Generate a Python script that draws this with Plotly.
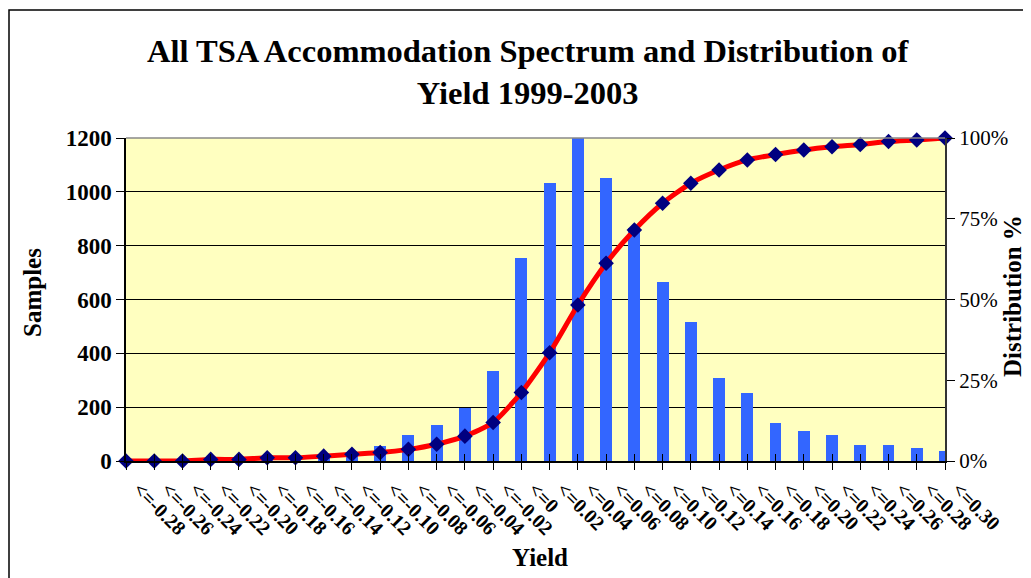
import plotly.graph_objects as go

# categories (yield bins)
yield_labels = ["<=-0.28", "<=-0.26", "<=-0.24", "<=-0.22", "<=-0.20", "<=-0.18",
                "<=-0.16", "<=-0.14", "<=-0.12", "<=-0.10", "<=-0.08", "<=-0.06",
                "<=-0.04", "<=-0.02", "<=0", "<=0.02", "<=0.04", "<=0.06",
                "<=0.08", "<=0.10", "<=0.12", "<=0.14", "<=0.16", "<=0.18",
                "<=0.20", "<=0.22", "<=0.24", "<=0.26", "<=0.28", "<=0.30"]

# samples per bin (bars, left axis)
samples = [0, 0, 8, 3, 3, 5, 5, 25, 30, 56, 95, 134, 198, 334, 754,
           1033, 1211, 1051, 867, 665, 516, 308, 253, 141, 111, 97, 59, 59, 48, 37]

# cumulative distribution (line, right axis)
distribution = [0.0, 0.0, 0.0, 0.005, 0.005, 0.010, 0.010, 0.015, 0.021, 0.026,
                0.036, 0.052, 0.077, 0.119, 0.212, 0.335, 0.483, 0.612, 0.715, 0.798,
                0.860, 0.901, 0.932, 0.949, 0.963, 0.973, 0.980, 0.989, 0.994, 1.0]

xs = list(range(len(yield_labels)))
serif = "Liberation Serif, Times New Roman, serif"

# the page body adds an 8px margin, so the figure is 8px smaller and
# plot area positions below are given in window pixels
PL, PR, PT, PB = 126, 945, 138, 461
PW, PH = PR - PL, PB - PT


def px(x):
    return (x - PL) / PW


def py(y):
    return (PB - y) / PH


fig = go.Figure()

fig.add_trace(go.Bar(x=xs, y=samples, width=0.42,
                     marker=dict(color="#3366FF", line=dict(width=0)),
                     xaxis="x", yaxis="y", showlegend=False))

fig.add_trace(go.Scatter(x=xs, y=distribution, mode="lines+markers",
                         line=dict(color="#FF0000", width=5, shape="spline", smoothing=0.6),
                         marker=dict(symbol="diamond", size=12, color="#000080"),
                         xaxis="x2", yaxis="y2", showlegend=False, cliponaxis=False))

fig.update_layout(
    width=1023, height=570,
    margin=dict(l=PL - 8, r=1031 - PR, t=PT - 8, b=578 - PB),
    paper_bgcolor="white",
    plot_bgcolor="#FFFFC0",
    font=dict(family=serif, color="black"),
    bargap=0,
    xaxis=dict(range=[0, 29], tickvals=xs, ticktext=["<b>%s</b>" % t for t in yield_labels],
               tickangle=45, tickfont=dict(size=20, family=serif), ticklabelshift=13,
               ticks="outside", ticklen=7, tickcolor="black",
               showline=True, linecolor="black", linewidth=1.5,
               showgrid=False, zeroline=False, automargin=False),
    xaxis2=dict(range=[0, 29], overlaying="x", tickvals=xs, showticklabels=False,
                ticks="inside", ticklen=7, tickcolor="black",
                showgrid=False, zeroline=False, showline=False),
    yaxis=dict(range=[0, 1200], dtick=200, tickfont=dict(size=23, family=serif),
               tickprefix="<b>", ticksuffix="</b>",
               ticks="outside", ticklen=8, tickcolor="black",
               showline=True, linecolor="black", linewidth=1.5,
               showgrid=True, gridcolor="black", gridwidth=1, zeroline=False,
               automargin=False),
    yaxis2=dict(range=[0, 1], dtick=0.25, tickformat=".0%", overlaying="y", side="right",
                tickfont=dict(size=21, family=serif),
                ticks="outside", ticklen=8, tickcolor="black",
                showline=True, linecolor="#333333", linewidth=2,
                showgrid=False, zeroline=False, automargin=False),
)

# top edge of plot area
fig.add_shape(type="line", xref="paper", yref="paper", x0=0, x1=1, y0=1, y1=1,
              line=dict(color="#888888", width=1.5))

# outer chart border
fig.add_shape(type="rect", xref="paper", yref="paper",
              x0=px(9), x1=px(1045), y0=py(600), y1=py(10),
              line=dict(color="black", width=1.5), fillcolor="rgba(0,0,0,0)", layer="below")

fig.add_annotation(text="<b>All TSA Accommodation Spectrum and Distribution of<br>Yield 1999-2003</b>",
                   xref="paper", yref="paper", x=px(528), y=py(72),
                   showarrow=False, font=dict(size=32.5, family=serif), align="center",
                   xanchor="center", yanchor="middle")
fig.add_annotation(text="<b>Samples</b>", xref="paper", yref="paper",
                   x=px(32), y=py(293), textangle=-90,
                   showarrow=False, font=dict(size=25, family=serif),
                   xanchor="center", yanchor="middle")
fig.add_annotation(text="<b>Distribution %</b>", xref="paper", yref="paper",
                   x=px(1012), y=py(296), textangle=-90,
                   showarrow=False, font=dict(size=25, family=serif),
                   xanchor="center", yanchor="middle")
fig.add_annotation(text="<b>Yield</b>", xref="paper", yref="paper",
                   x=px(540), y=py(557),
                   showarrow=False, font=dict(size=25, family=serif),
                   xanchor="center", yanchor="middle")

fig.write_html("out.html")
